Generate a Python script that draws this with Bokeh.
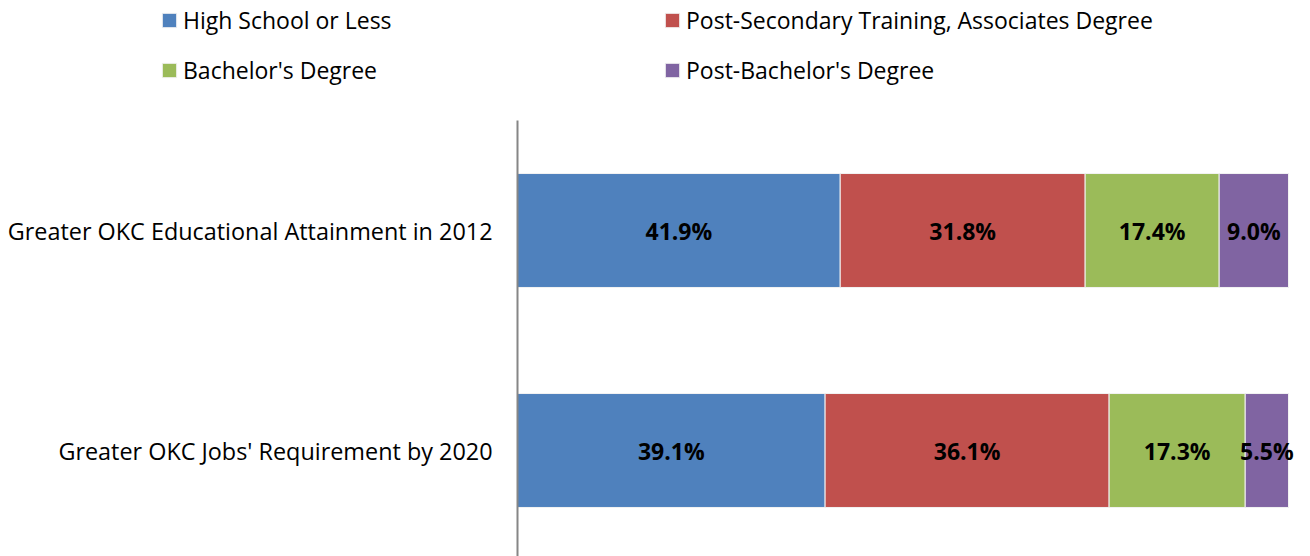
from bokeh.plotting import figure
from bokeh.models import ColumnDataSource, Legend, LegendItem, Range1d
from bokeh.core.properties import value
from bokeh.embed import file_html
from bokeh.resources import INLINE

categories = ["Greater OKC Educational Attainment in 2012",
              "Greater OKC Jobs' Requirement by 2020"]
series_names = ["High School or Less",
                "Post-Secondary Training, Associates Degree",
                "Bachelor's Degree",
                "Post-Bachelor's Degree"]
high_school = [41.9, 39.1]
post_secondary = [31.8, 36.1]
bachelors = [17.4, 17.3]
post_bachelors = [9.0, 5.5]
colors = ["#4F81BD", "#C0504D", "#9BBB59", "#8064A2"]

FONT = "Open Sans"
series = [high_school, post_secondary, bachelors, post_bachelors]
keys = ["hs", "ps", "ba", "pb"]
n = len(categories)
y_pos = [n - i - 0.5 for i in range(n)]
totals = [sum(s[i] for s in series) for i in range(n)]

data = {"y": y_pos, "cat": categories, "zero": [0.0] * n}
for k, s in zip(keys, series):
    data[k] = [s[i] / totals[i] for i in range(n)]
source = ColumnDataSource(data)

W, H = 1310, 556
plot_left_px, plot_right_px = 517, 1288
px_per_x = plot_right_px - plot_left_px
px_per_y = 220.0
top_center_px = 230
y_top = y_pos[0] + top_center_px / px_per_y
y_bot = y_top - H / px_per_y

p = figure(width=W, height=H, output_backend="svg", toolbar_location=None,
           x_range=Range1d(-plot_left_px / px_per_x, (W - plot_left_px) / px_per_x),
           y_range=Range1d(y_bot, y_top),
           min_border_left=0, min_border_right=0, min_border_top=0,
           min_border_bottom=0)
p.outline_line_color = None
p.xgrid.visible = False
p.ygrid.visible = False
p.xaxis.visible = False
p.yaxis.visible = False

renderers = p.hbar_stack(keys, y="y", height=0.518, color=colors,
                         line_color="#F2F2F2", line_width=1, source=source)

# category axis line
p.segment(x0=0, y0=n, x1=0, y1=y_bot, line_color="#868686", line_width=2)

# category labels
p.text(x="zero", y="y", text="cat", source=source, x_offset=-25,
       text_align="right", text_baseline="middle", text_font_size="23.4px",
       text_color="black", text_font=value(FONT))

# segment labels
lab = {"x": [], "y": [], "t": []}
for i in range(n):
    left = 0.0
    for k, s in zip(keys, series):
        w = data[k][i]
        lab["x"].append(left + w / 2)
        lab["y"].append(y_pos[i])
        lab["t"].append(f"{s[i]:.1f}%")
        left += w
p.text(x="x", y="y", text="t", source=ColumnDataSource(lab),
       text_align="center", text_baseline="middle", text_font_size="23px",
       text_font_style="bold", text_color="black", text_font=value(FONT))


def make_legend(idx, x):
    items = [LegendItem(label=series_names[j], renderers=[renderers[j]]) for j in idx]
    lg = Legend(items=items, location=(x, 470), orientation="vertical",
                glyph_width=18, glyph_height=18, label_standoff=5,
                label_height=20, spacing=18, padding=0, margin=0,
                border_line_color=None, background_fill_alpha=0,
                label_text_font=FONT, label_text_font_size="23px",
                label_text_color="black")
    p.add_layout(lg, "center")


make_legend([0, 2], 160)
make_legend([1, 3], 663)

open("out.html", "w").write(file_html(p, INLINE))
